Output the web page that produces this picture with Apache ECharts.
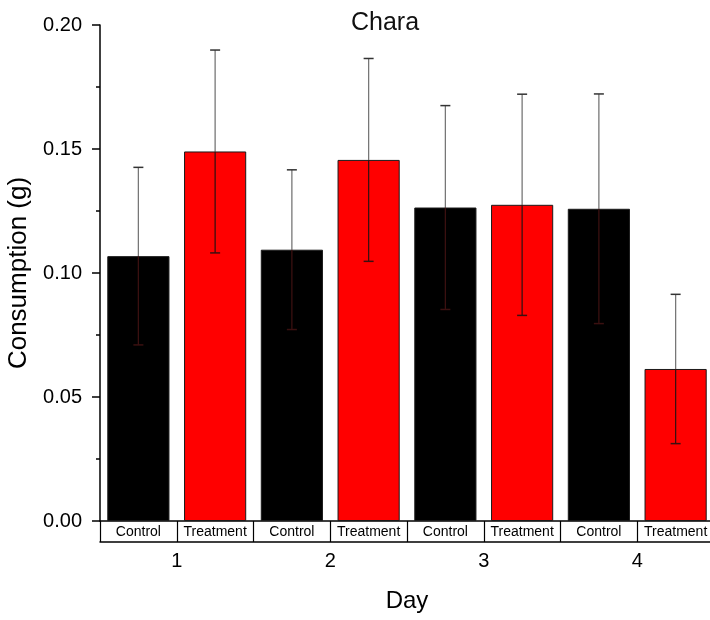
<!DOCTYPE html>
<html>
<head>
<meta charset="utf-8">
<script src="https://cdn.jsdelivr.net/npm/echarts@6/dist/echarts.min.js"></script>
<style>
html,body{margin:0;padding:0;background:#fff;}
#chart{width:710px;height:620px;}
</style>
</head>
<body>
<div id="chart"></div>
<script>
const days = ['1', '2', '3', '4'];
const groups = ['Control', 'Treatment'];
const controlMean = [0.1068, 0.1094, 0.1264, 0.1259];
const controlErr  = [0.0358, 0.0322, 0.0411, 0.0463];
const treatmentMean = [0.1490, 0.1456, 0.1275, 0.0613];
const treatmentErr  = [0.0409, 0.0409, 0.0446, 0.0301];
const yTicks = [0, 0.05, 0.10, 0.15, 0.20];

const FONT = 'Liberation Sans, Arial, sans-serif';
const groupColors = {Control: '#000000', Treatment: '#ff0000'};

const cats = [];
const barData = [];
const errData = [];
days.forEach((d, i) => {
  [[groups[0], controlMean[i], controlErr[i]], [groups[1], treatmentMean[i], treatmentErr[i]]].forEach(([g, m, e]) => {
    const idx = cats.length;
    cats.push(g);
    barData.push({value: m, itemStyle: {color: groupColors[g]}});
    errData.push([idx, m - e, m + e, m]);
  });
});

const chart = echarts.init(document.getElementById('chart'));
chart.setOption({
  animation: false,
  backgroundColor: '#fff',
  title: {
    text: 'Chara', left: 380, top: 6, textAlign: 'center',
    textStyle: {fontFamily: FONT, fontSize: 25, fontWeight: 'normal', color: '#111'}
  },
  grid: {left: 100, top: 25, width: 614, height: 496, containLabel: false, outerBoundsMode: 'none'},
  xAxis: [
    {
      type: 'category', data: cats, position: 'bottom', boundaryGap: true,
      axisLine: {show: true, lineStyle: {color: '#000', width: 1.5}},
      axisTick: {show: true, length: 21, interval: 0, lineStyle: {color: '#000', width: 1.2}},
      axisLabel: {interval: 0, fontFamily: FONT, fontSize: 14, color: '#000', margin: 4},
      splitLine: {show: false}
    },
    {
      type: 'category', data: cats, position: 'bottom', offset: 21,
      axisLine: {show: true, lineStyle: {color: '#000', width: 1.5}},
      axisTick: {show: false}, axisLabel: {show: false}, splitLine: {show: false}
    },
    {
      type: 'category', data: days, position: 'bottom', offset: 0,
      axisLine: {show: false}, axisTick: {show: false},
      axisLabel: {fontFamily: FONT, fontSize: 20, color: '#000', margin: 30},
      name: 'Day', nameLocation: 'middle', nameGap: 68,
      nameTextStyle: {fontFamily: FONT, fontSize: 24, color: '#000'},
      splitLine: {show: false}
    }
  ],
  yAxis: {
    type: 'value', min: yTicks[0], max: yTicks[yTicks.length - 1], interval: 0.05,
    axisLine: {show: true, lineStyle: {color: '#000', width: 1.5}},
    axisTick: {show: true, length: 8, lineStyle: {color: '#000', width: 1.5}},
    minorTick: {show: true, splitNumber: 2, length: 4, lineStyle: {color: '#000', width: 1.5}},
    axisLabel: {fontFamily: FONT, fontSize: 20, color: '#000', margin: 18, formatter: v => v.toFixed(2)},
    splitLine: {show: false},
    name: 'Consumption (g)', nameLocation: 'middle', nameGap: 62,
    nameTextStyle: {fontFamily: FONT, fontSize: 26, color: '#000'}
  },
  series: [
    {
      type: 'bar', xAxisIndex: 0, data: barData, barWidth: '81%',
      itemStyle: {borderColor: '#1a1a1a', borderWidth: 1}
    },
    {
      type: 'custom', xAxisIndex: 0, data: errData, encode: {x: 0, y: [1, 2]}, z: 10,
      renderItem: function (params, api) {
        const i = api.value(0);
        const lo = api.coord([i, api.value(1)]);
        const hi = api.coord([i, api.value(2)]);
        const mid = api.coord([i, api.value(3)]);
        const x = hi[0];
        const cap = 5;
        return {
          type: 'group',
          children: [
            {type: 'line', shape: {x1: x, y1: hi[1], x2: x, y2: mid[1]}, style: {stroke: '#777', lineWidth: 1.3}},
            {type: 'line', shape: {x1: x, y1: mid[1], x2: x, y2: lo[1]}, style: {stroke: '#3a1010', lineWidth: 1.3}},
            {type: 'line', shape: {x1: x - cap, y1: hi[1], x2: x + cap, y2: hi[1]}, style: {stroke: '#333', lineWidth: 1.5}},
            {type: 'line', shape: {x1: x - cap, y1: lo[1], x2: x + cap, y2: lo[1]}, style: {stroke: '#3a1010', lineWidth: 1.5}}
          ]
        };
      }
    }
  ]
});
</script>
</body>
</html>
